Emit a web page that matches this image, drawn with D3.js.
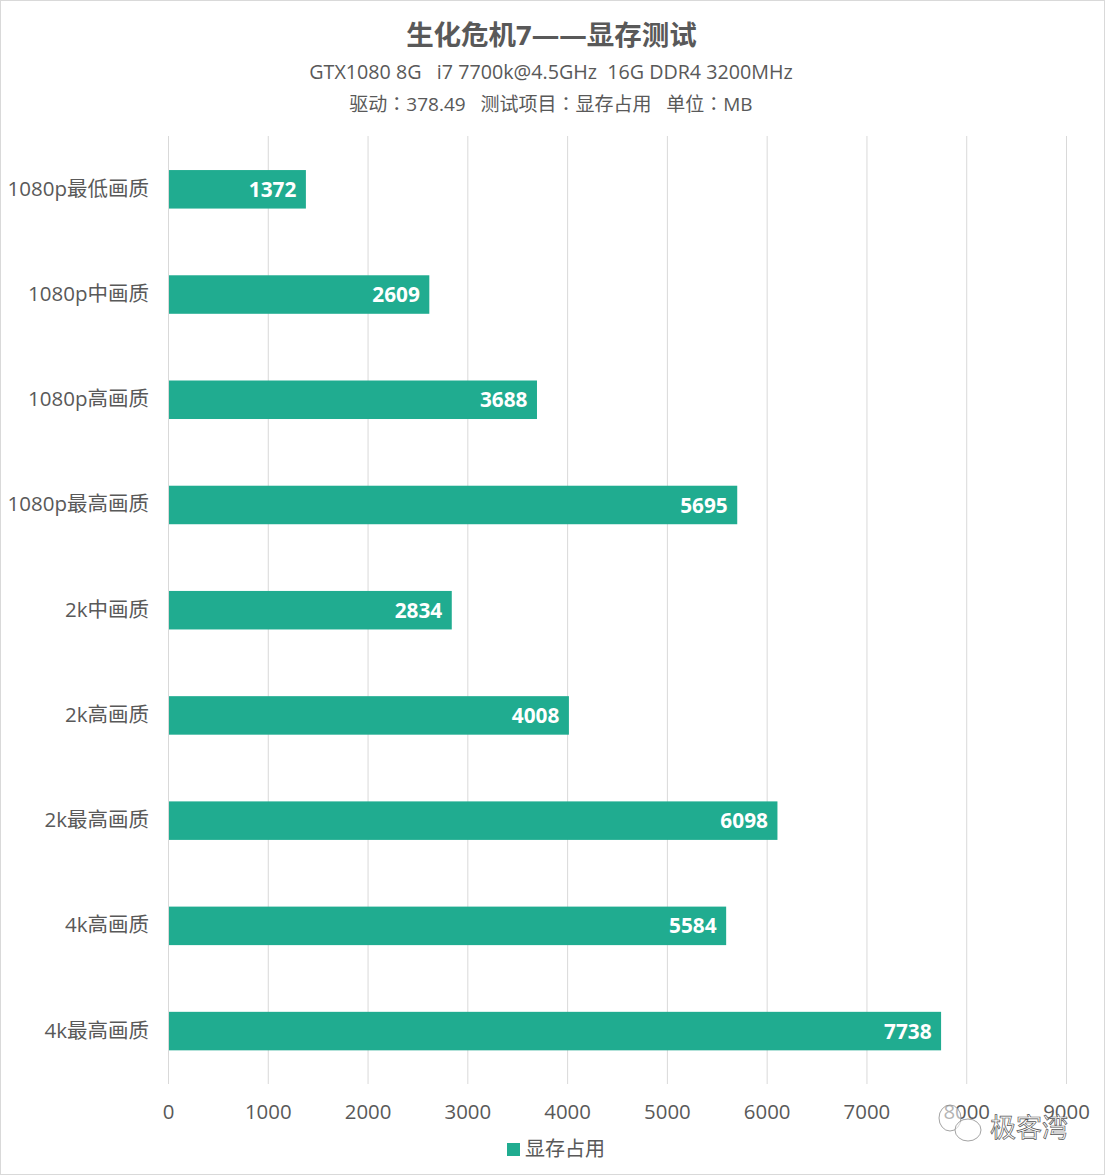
<!DOCTYPE html>
<html>
<head>
<meta charset="utf-8">
<script src="https://cdn.jsdelivr.net/npm/d3@7"></script>
<style>
  html, body { margin: 0; padding: 0; background: #fff; }
  svg { display: block; font-family: "Open Sans", "Noto Sans CJK TC", sans-serif; }
</style>
</head>
<body>
<svg id="chart"></svg>
<script>
const categories = ['1080p最低画质', '1080p中画质', '1080p高画质', '1080p最高画质', '2k中画质', '2k高画质', '2k最高画质', '4k高画质', '4k最高画质'];
const memoryUse = [1372, 2609, 3688, 5695, 2834, 4008, 6098, 5584, 7738];
const xTicks = [0, 1000, 2000, 3000, 4000, 5000, 6000, 7000, 8000, 9000];
const titleText = '生化危机7——显存测试';
const subtitleLines = ['GTX1080 8G   i7 7700k@4.5GHz  16G DDR4 3200MHz', '驱动：378.49   测试项目：显存占用   单位：MB'];
const subtitleSizes = [19.7, 19];
const legendLabel = '显存占用';
const watermarkText = '极客湾';

const width = 1105, height = 1175;
const green = '#20ac90', textColor = '#595959';
const cjkFont = '"Open Sans", "Noto Sans CJK SC", sans-serif';

const svg = d3.select('#chart').attr('width', width).attr('height', height);

// image border
svg.append('rect')
    .attr('x', 0.5).attr('y', 0.5)
    .attr('width', width - 1).attr('height', height - 1)
    .attr('fill', '#fff').attr('stroke', '#d9d9d9');

const x = d3.scaleLinear().domain([0, 9000]).range([168.5, 1066.5]);
const y = d3.scaleBand().domain(categories).range([137, 1084]).paddingInner(0.634).paddingOuter(0.317);

// gridlines
svg.append('g').selectAll('line')
  .data(xTicks)
  .join('line')
    .attr('x1', d => x(d)).attr('x2', d => x(d))
    .attr('y1', 136).attr('y2', 1084)
    .attr('stroke', '#d9d9d9');

// bars
const rows = categories.map((c, i) => ({ name: c, value: memoryUse[i] }));

svg.append('g').selectAll('rect')
  .data(rows)
  .join('rect')
    .attr('x', x(0) + 0.5)
    .attr('y', d => y(d.name) - 0.3)
    .attr('width', d => x(d.value) - x(0))
    .attr('height', y.bandwidth())
    .attr('fill', green);

// value labels
svg.append('g').selectAll('text')
  .data(rows)
  .join('text')
    .attr('x', d => x(d.value) - 9)
    .attr('y', d => y(d.name) + y.bandwidth() / 2)
    .attr('dy', '0.35em')
    .attr('text-anchor', 'end')
    .attr('fill', '#fff')
    .attr('font-size', 20.8)
    .attr('font-weight', 700)
    .text(d => d.value);

// category labels
svg.append('g').selectAll('text')
  .data(categories)
  .join('text')
    .attr('x', 149)
    .attr('y', d => y(d) + y.bandwidth() / 2 - 1)
    .attr('dy', '0.35em')
    .attr('text-anchor', 'end')
    .attr('fill', textColor)
    .attr('font-size', 20.5)
    .style('font-family', cjkFont)
    .text(d => d);

// x tick labels
svg.append('g').selectAll('text')
  .data(xTicks)
  .join('text')
    .attr('x', d => x(d))
    .attr('y', 1112)
    .attr('dy', '0.35em')
    .attr('text-anchor', 'middle')
    .attr('fill', textColor)
    .attr('font-size', 20.4)
    .text(d => d);

// titles
svg.append('text')
    .attr('x', 551.5).attr('y', 45)
    .attr('text-anchor', 'middle')
    .attr('fill', textColor)
    .attr('font-size', 27.5)
    .attr('font-weight', 700)
    .style('font-family', cjkFont)
    .text(titleText);

svg.append('g').selectAll('text')
  .data(subtitleLines)
  .join('text')
    .attr('x', 551)
    .attr('y', (d, i) => 79 + i * 32)
    .attr('text-anchor', 'middle')
    .attr('fill', textColor)
    .attr('font-size', (d, i) => subtitleSizes[i])
    .style('white-space', 'pre')
    .text(d => d);

// legend
svg.append('rect')
    .attr('x', 507).attr('y', 1143)
    .attr('width', 13).attr('height', 13)
    .attr('fill', green);

svg.append('text')
    .attr('x', 525).attr('y', 1149)
    .attr('dy', '0.35em')
    .attr('fill', textColor)
    .attr('font-size', 20)
    .style('font-family', cjkFont)
    .text(legendLabel);

// watermark
const mark = svg.append('g').attr('fill', 'rgba(255,255,255,0.55)').attr('stroke', '#8c8c8c').attr('stroke-width', 0.8);
mark.append('ellipse').attr('cx', 950).attr('cy', 1118).attr('rx', 11).attr('ry', 13);
mark.append('ellipse').attr('cx', 968).attr('cy', 1130).attr('rx', 13).attr('ry', 11);

svg.append('text')
    .attr('x', 990).attr('y', 1137)
    .attr('fill', '#fff')
    .attr('stroke', '#555')
    .attr('stroke-width', 0.7)
    .attr('font-size', 26)
    .style('font-family', cjkFont)
    .text(watermarkText);
</script>
</body>
</html>
